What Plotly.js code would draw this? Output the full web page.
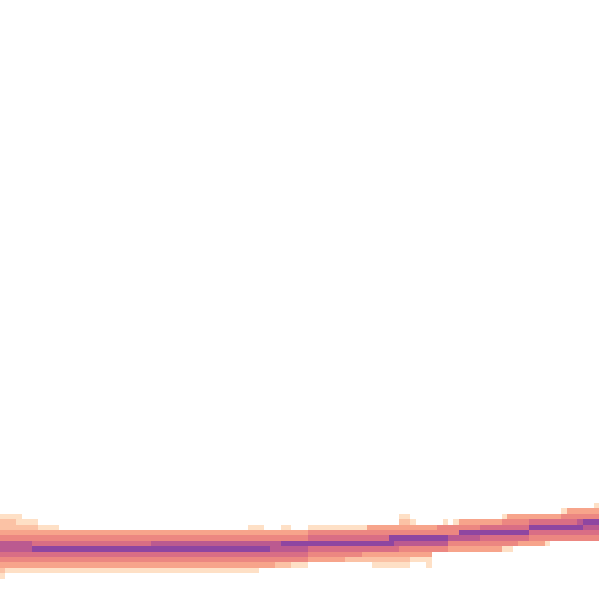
<!DOCTYPE html>
<html>
<head>
<meta charset="utf-8">
<script src="https://cdn.plot.ly/plotly-3.0.1.min.js"></script>
<style>html,body{margin:0;padding:0;background:#fff;}#chart{width:600px;height:600px;}</style>
</head>
<body>
<div id="chart"></div>
<script>
// Density levels per grid row (row index from bottom), run-length encoded as [level, count] over 111 columns.
const row4  = [[1,1],[0,110]];
const row5  = [[2,1],[1,47],[0,63]];
const row6  = [[3,51],[2,3],[1,3],[0,12],[1,7],[0,3],[1,1],[0,31]];
const row7  = [[4,57],[3,7],[2,12],[1,4],[0,31]];
const row8  = [[5,57],[4,10],[3,13],[0,31]];
const row9  = [[6,6],[7,44],[6,7],[5,17],[4,9],[3,10],[1,2],[0,16]];
const row10 = [[6,6],[5,22],[6,24],[7,21],[6,10],[4,13],[3,5],[1,1],[0,9]];
const row11 = [[4,57],[5,15],[7,11],[6,6],[5,9],[4,13]];
const row12 = [[3,57],[4,28],[7,13],[5,13]];
const row13 = [[2,7],[1,4],[0,35],[1,3],[0,3],[1,2],[0,3],[1,11],[3,13],[4,8],[5,9],[7,10],[6,3]];
const row14 = [[2,3],[1,4],[0,67],[2,2],[1,1],[0,5],[1,1],[0,1],[1,1],[3,8],[4,5],[5,9],[6,1],[7,3]];
const row15 = [[1,4],[0,70],[1,2],[0,17],[1,1],[3,10],[4,7]];
const row16 = [[0,104],[1,1],[3,6]];
const row17 = [[0,110],[1,1]];

const rowsRLE = {4:row4,5:row5,6:row6,7:row7,8:row8,9:row9,10:row10,11:row11,12:row12,13:row13,14:row14,15:row15,16:row16,17:row17};
const nCols = 111;
const nRows = 19;
const levelColors = ['#fee0c6','#fbc2a5','#f7a48b','#ec8781','#d96e85','#bb5a90','#8e46a1'];

function expand(rle){
  const out = [];
  rle.forEach(([v,c]) => { for (let i=0;i<c;i++) out.push(v===0?null:v); });
  while (out.length < nCols) out.push(null);
  return out.slice(0,nCols);
}
const z = [];
for (let r=0;r<nRows;r++){
  z.push(rowsRLE[r] ? expand(rowsRLE[r]) : new Array(nCols).fill(null));
}
const xs = Array.from({length:nCols},(_,i)=>i);
const ys = Array.from({length:nRows},(_,i)=>i);
const colorscale = levelColors.map((c,i)=>[i/(levelColors.length-1), c]);

Plotly.newPlot('chart', [{
  type:'heatmap', x:xs, y:ys, z:z,
  zmin:1, zmax:7, colorscale:colorscale, showscale:false, hoverongaps:false
}], {
  width:600, height:600,
  margin:{l:0,r:0,t:0,b:0,pad:0},
  paper_bgcolor:'#ffffff', plot_bgcolor:'#ffffff',
  xaxis:{visible:false, range:[-0.5, 110.6111], fixedrange:true},
  yaxis:{visible:false, range:[-0.5, 110.6111], fixedrange:true},
  showlegend:false
}, {displayModeBar:false, staticPlot:true});
</script>
</body>
</html>
